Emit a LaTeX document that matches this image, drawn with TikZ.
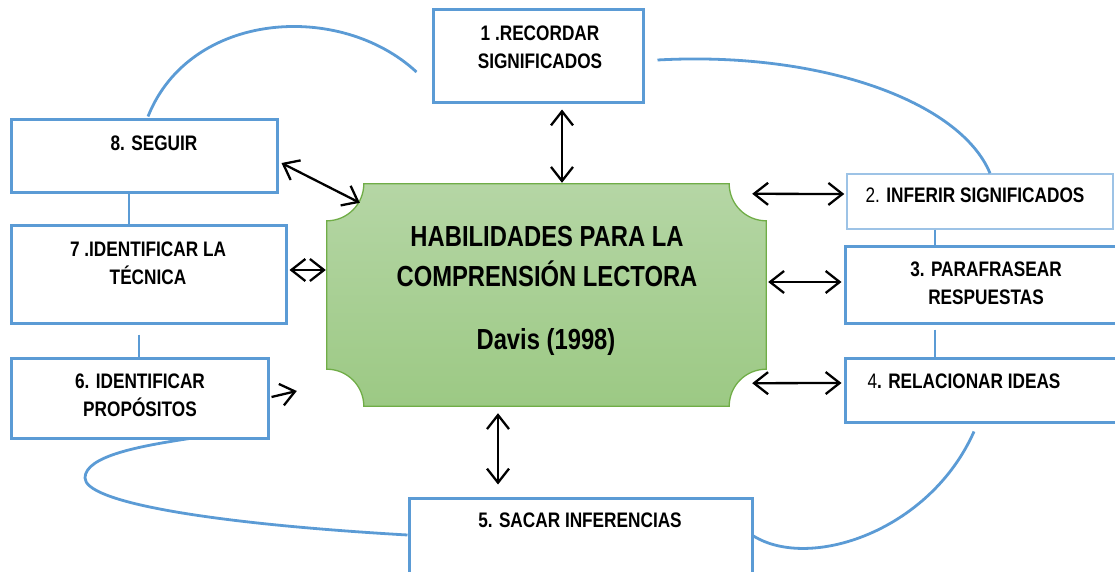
\documentclass[tikz,border=0pt]{standalone}
\usepackage{fontspec}
\setmainfont{Liberation Sans}[FakeStretch=0.82]
\usetikzlibrary{arrows.meta, calc}
\definecolor{BoxBlue}{HTML}{5B9BD5}
\definecolor{BoxBlueLight}{HTML}{9DC3E6}
\definecolor{HubGreen}{HTML}{70AD47}
\definecolor{HubTop}{HTML}{B5D6A5}
\definecolor{HubBottom}{HTML}{9CC984}

\tikzset{
  stepbox/.style={draw=BoxBlue, line width=3pt, fill=white, inner sep=0pt},
  steptext/.style={font=\bfseries\fontsize{21}{28}\selectfont, align=center, inner sep=0pt},
  hubtext/.style={font=\bfseries\fontsize{29}{40}\selectfont, align=center, inner sep=0pt},
  link/.style={draw=BoxBlue, line width=2.8pt},
  dbl/.style={line width=2.3pt, {Straight Barb[length=14pt,width=22pt]}-{Straight Barb[length=14pt,width=22pt]}},
  sgl/.style={line width=2.3pt, -{Straight Barb[length=14pt,width=22pt]}}
}

\begin{document}
\begin{tikzpicture}[x=1pt, y=1pt]
\useasboundingbox (0,0) rectangle (1115,571);

% central plaque
\node[minimum width=439, minimum height=222, inner sep=0pt] (hub) at (546.5,276) {};
\path[draw=HubGreen, line width=1.3pt, top color=HubTop, bottom color=HubBottom]
  ($(hub.north west)+(37,0)$) -- ($(hub.north east)+(-37,0)$)
  arc[start angle=180, end angle=270, radius=37] -- ($(hub.south east)+(0,37)$)
  arc[start angle=90, end angle=180, radius=37] -- ($(hub.south west)+(37,0)$)
  arc[start angle=0, end angle=90, radius=37] -- ($(hub.north west)+(0,-37)$)
  arc[start angle=270, end angle=360, radius=37] -- cycle;
\node[hubtext] (title) at (547,314) {HABILIDADES PARA LA\\COMPRENSIÓN LECTORA};
\node[hubtext] (author) at (546,229) {Davis (1998)};

% boxes
\node[stepbox, minimum width=210, minimum height=93] (box1) at (538,514.5) {};
\node[stepbox, draw=BoxBlueLight, line width=1.5pt, minimum width=266, minimum height=55] (box2) at (980,369.5) {};
\node[stepbox, minimum width=272, minimum height=77] (box3) at (981,286.5) {};
\node[stepbox, minimum width=272, minimum height=64] (box4) at (981,181) {};
\node[stepbox, minimum width=343, minimum height=82] (box5) at (580.5,32) {};
\node[stepbox, minimum width=257, minimum height=80] (box6) at (139.5,173) {};
\node[stepbox, minimum width=275, minimum height=97] (box7) at (148.5,296.5) {};
\node[stepbox, minimum width=266, minimum height=73] (box8) at (144,414.5) {};

\node[steptext] (t1) at (540,524) {1 .RECORDAR\\SIGNIFICADOS};
\node[steptext] (t2) at (975,376) {{\mdseries 2.} INFERIR SIGNIFICADOS};
\node[steptext] (t3) at (986,288) {3. PARAFRASEAR\\RESPUESTAS};
\node[steptext] (t4) at (964,190) {{\mdseries 4}. RELACIONAR IDEAS};
\node[steptext] (t5) at (580,51) {5. SACAR INFERENCIAS};
\node[steptext] (t6) at (140,176) {6. IDENTIFICAR\\PROPÓSITOS};
\node[steptext] (t7) at (148,307.5) {7 .IDENTIFICAR LA\\TÉCNICA};
\node[steptext] (t8) at (154,428) {8. SEGUIR};

% blue ring
\draw[link] ($(box8.north)+(4,2)$) .. controls (190,560) and (340,570) .. ($(box1.west)+(-15,-15.5)$);
\draw[link] ($(box1.east)+(13,-3.5)$) .. controls (820,520) and (960,470) .. ($(box2.north)+(10,0)$);
\draw[link] ($(box2.south)+(-45,0)$) -- ($(box3.north)+(-46,0)$);
\draw[link] ($(box3.south)+(-46,-5)$) -- ($(box4.north)+(-46,0)$);
\draw[link] ($(box4.south)+(-7,-8)$) .. controls (930,40) and (810,0) .. ($(box5.east)+(0,3)$);
\draw[link] ($(box5.west)+(0,4)$) .. controls (200,48) and (85,70) .. (85,93)
  .. controls (85,115) and (140,125) .. ($(box6.south)+(50,1)$);
\draw[link] ($(box7.south)+(-9.5,-10)$) -- ($(box6.north)+(-0.5,0)$);
\draw[link] ($(box8.south)+(-15,0)$) -- ($(box7.north)+(-19.5,0)$);

% arrows to the plaque
\draw[dbl] ($(box1.south)+(24,-5)$) -- ($(hub.north)+(15.5,1)$);
\draw[dbl] ($(box8.east)+(3,-6.5)$) -- ($(hub.north west)+(33,-19)$);
\draw[dbl] ($(hub.north east)+(-14,-10)$) -- ($(box2.west)+(-2,7.5)$);
\draw[dbl] ($(box7.east)+(2,4.5)$) -- ($(hub.west)+(-1,25)$);
\draw[dbl] ($(hub.east)+(2,13)$) -- ($(box3.west)+(-2,2.5)$);
\draw[sgl] ($(box6.east)+(2,1)$) -- ($(hub.west)+(-30,-96)$);
\draw[dbl] ($(hub.south east)+(-14,23)$) -- ($(box4.west)+(-2,7)$);
\draw[dbl] ($(hub.south)+(-48.5,-7)$) -- ($(box5.north)+(-82.5,12)$);
\end{tikzpicture}
\end{document}
